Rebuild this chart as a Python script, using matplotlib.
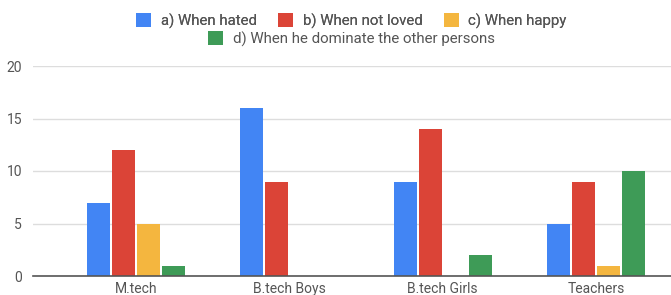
import matplotlib
matplotlib.use("Agg")
import matplotlib.pyplot as plt
import numpy as np
from matplotlib.patches import Patch

categories = ["M.tech", "B.tech Boys", "B.tech Girls", "Teachers"]
series_names = ["a) When hated", "b) When not loved", "c) When happy",
                "d) When he dominate the other persons"]
hated = [7, 16, 9, 5]
not_loved = [12, 9, 14, 9]
happy = [5, 0, 0, 1]
dominate = [1, 0, 2, 10]
colors = ["#4285F4", "#DB4437", "#F4B63F", "#3E9B57"]
yticks = [0, 5, 10, 15, 20]

plt.rcParams['font.family'] = ['Roboto', 'DejaVu Sans']
fig = plt.figure(figsize=(6.71, 2.95), dpi=100)
ax = fig.add_axes([33/671, 1-276/295, 1-33/671, (276-66)/295])

x = np.arange(len(categories))
w = 0.15
step = 0.163
all_series = [hated, not_loved, happy, dominate]
for i, (vals, c) in enumerate(zip(all_series, colors)):
    ax.bar(x + (i - 1.5) * step, vals, width=w, color=c, zorder=3)

ax.set_xlim(-0.672, 3.49)
ax.set_ylim(0, 20)
ax.set_yticks(yticks)
ax.set_xticks(x)
ax.set_xticklabels(categories)
ax.tick_params(axis='both', length=0, labelsize=10, colors='#555555')
ax.tick_params(axis='x', pad=4)
ax.tick_params(axis='y', pad=8)
ax.yaxis.grid(True, color='#dddddd', linewidth=1, zorder=0)
for s in ['top', 'right', 'left']:
    ax.spines[s].set_visible(False)
ax.spines['bottom'].set_color('#555555')
ax.spines['bottom'].set_linewidth(1.2)
ax.spines['bottom'].set_zorder(4)

handles = [Patch(facecolor=c, edgecolor='none') for c in colors]
kw = dict(frameon=False, fontsize=10.8, handlelength=1.0, handleheight=1.0,
          handletextpad=0.65, labelcolor='#555555', borderpad=0, borderaxespad=0)
cx = 0.5 + 16/671
leg1 = fig.legend(handles[:3], series_names[:3], loc='center', bbox_to_anchor=(cx, 1-21/295),
                  ncol=3, columnspacing=1.4, **kw)
leg2 = fig.legend(handles[3:], series_names[3:], loc='center', bbox_to_anchor=(cx, 1-39/295),
                  ncol=1, **kw)
fig.add_artist(leg1)

fig.savefig("out.png", dpi=100)
